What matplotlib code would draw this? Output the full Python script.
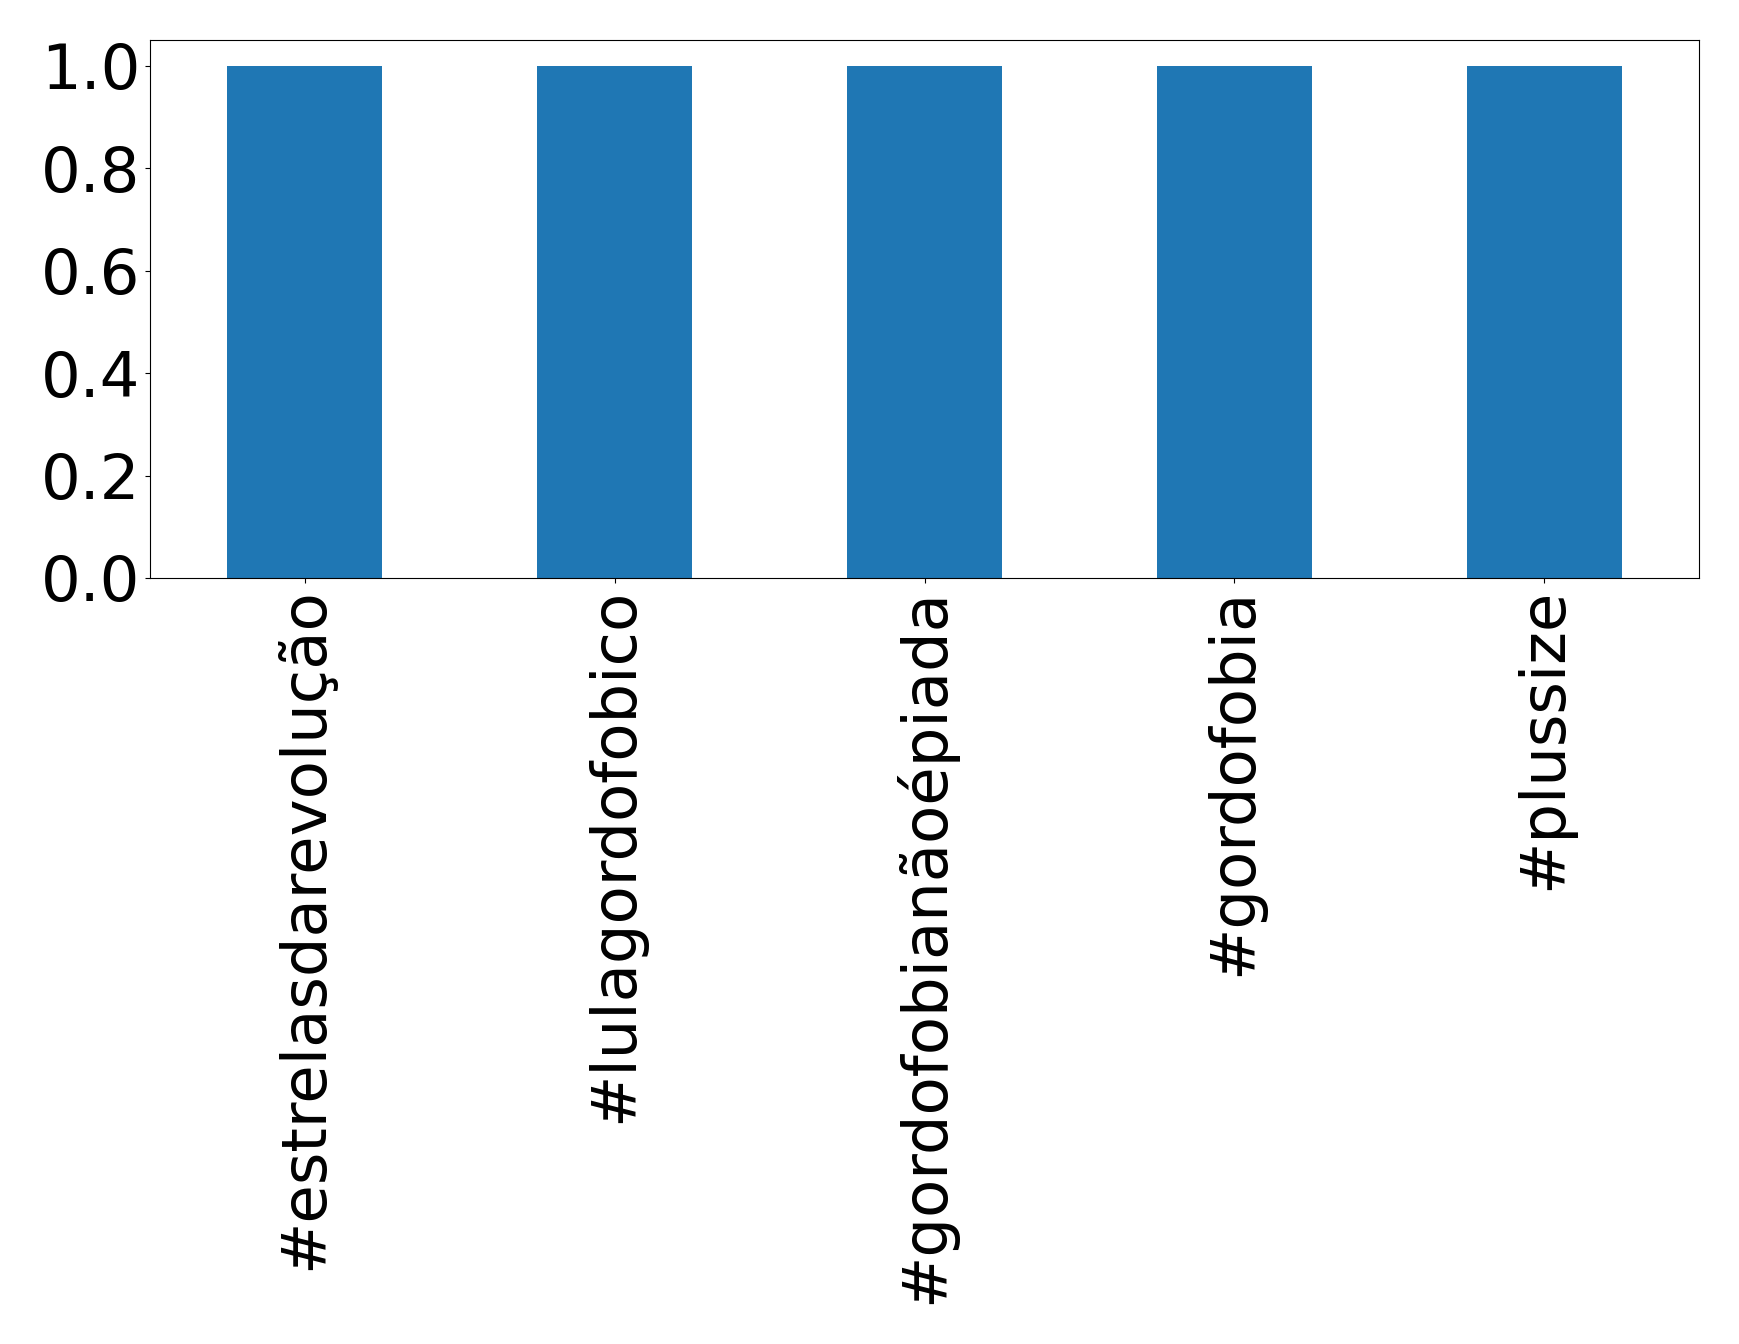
import matplotlib
matplotlib.use("Agg")
import matplotlib.pyplot as plt

categories = ["#estrelasdarevolução", "#lulagordofobico", "#gordofobianãoépiada", "#gordofobia", "#plussize"]
values = [1, 1, 1, 1, 1]
yticks = [0.0, 0.2, 0.4, 0.6, 0.8, 1.0]

fig = plt.figure(figsize=(17.39, 13.44), dpi=100)
ax = fig.add_axes([150/1739, 1-578/1344, (1699-150)/1739, (578-40)/1344])
x = range(len(categories))
ax.bar(x, values, width=0.5, color="#1f77b4")
ax.set_xlim(-0.5, len(categories) - 0.5)
ax.set_ylim(0, 1.05)
ax.set_yticks(yticks)
ax.set_xticks(list(x))
ax.set_xticklabels(categories, rotation=90, fontsize=45)
ax.tick_params(axis="y", labelsize=45)
fig.savefig("out.png", dpi=100)
